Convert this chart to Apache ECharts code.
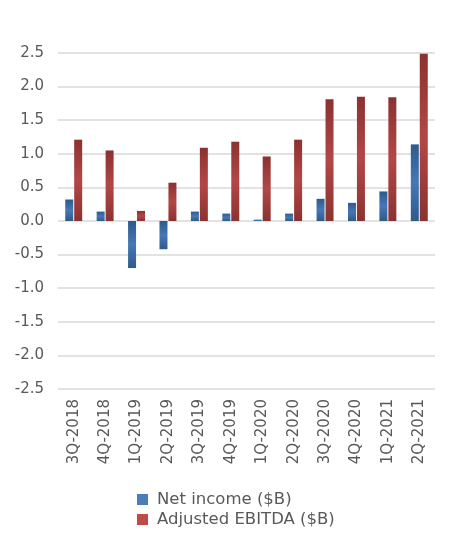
<!DOCTYPE html>
<html>
<head>
<meta charset="utf-8">
<script src="https://cdn.jsdelivr.net/npm/echarts@6/dist/echarts.min.js"></script>
<style>
  html, body { margin: 0; padding: 0; background: #fff; }
  #main { width: 469px; height: 547px; }
</style>
</head>
<body>
<div id="main"></div>
<script>
var quarters = ["3Q-2018", "4Q-2018", "1Q-2019", "2Q-2019", "3Q-2019", "4Q-2019",
  "1Q-2020", "2Q-2020", "3Q-2020", "4Q-2020", "1Q-2021", "2Q-2021"];
var netIncome = [0.32, 0.14, -0.70, -0.42, 0.14, 0.11, 0.02, 0.11, 0.33, 0.27, 0.44, 1.14];
var adjEbitda = [1.21, 1.05, 0.15, 0.57, 1.09, 1.18, 0.96, 1.21, 1.81, 1.85, 1.84, 2.49];

var chartDom = document.getElementById("main");
var myChart = echarts.init(chartDom);
var font = "DejaVu Sans";

// bars are shaded dark at the ends, lighter in the middle
function shade(dark, light) {
  return new echarts.graphic.LinearGradient(0, 0, 0, 1, [
    { offset: 0, color: dark },
    { offset: 0.5, color: light },
    { offset: 1, color: dark },
  ]);
}

var option = {
  animation: false,
  grid: { left: 58, right: 34, top: 53, bottom: 158 },
  legend: {
    orient: "vertical",
    left: 132,
    top: 486,
    itemWidth: 11,
    itemHeight: 11,
    itemGap: 3,
    icon: "rect",
    textStyle: { fontFamily: font, fontSize: 16.5, color: "#595959", padding: [0, 0, 0, 4] },
    data: [
      { name: "Net income ($B)", itemStyle: { color: "#4A7EBB" } },
      { name: "Adjusted EBITDA ($B)", itemStyle: { color: "#BE4B48" } },
    ],
  },
  xAxis: {
    type: "category",
    data: quarters,
    axisLine: { show: false },
    axisTick: { show: false },
    axisLabel: {
      rotate: 90,
      interval: 0,
      margin: 10,
      fontFamily: font,
      fontSize: 15,
      color: "#595959",
    },
  },
  yAxis: {
    type: "value",
    min: -2.5,
    max: 2.5,
    interval: 0.5,
    axisLine: { show: false },
    axisTick: { show: false },
    axisLabel: {
      margin: 14,
      fontFamily: font,
      fontSize: 15,
      color: "#595959",
      formatter: function (v) { return v.toFixed(1); },
    },
    splitLine: { lineStyle: { color: "#D9D9D9", width: 1.5 } },
  },
  series: [
    {
      name: "Net income ($B)",
      type: "bar",
      data: netIncome,
      barWidth: 8,
      barGap: "12%",
      itemStyle: { color: shade("#2E5A8C", "#4678B6") },
    },
    {
      name: "Adjusted EBITDA ($B)",
      type: "bar",
      data: adjEbitda,
      barWidth: 8,
      itemStyle: { color: shade("#8A3230", "#B34746") },
    },
  ],
};

option && myChart.setOption(option);
</script>
</body>
</html>
